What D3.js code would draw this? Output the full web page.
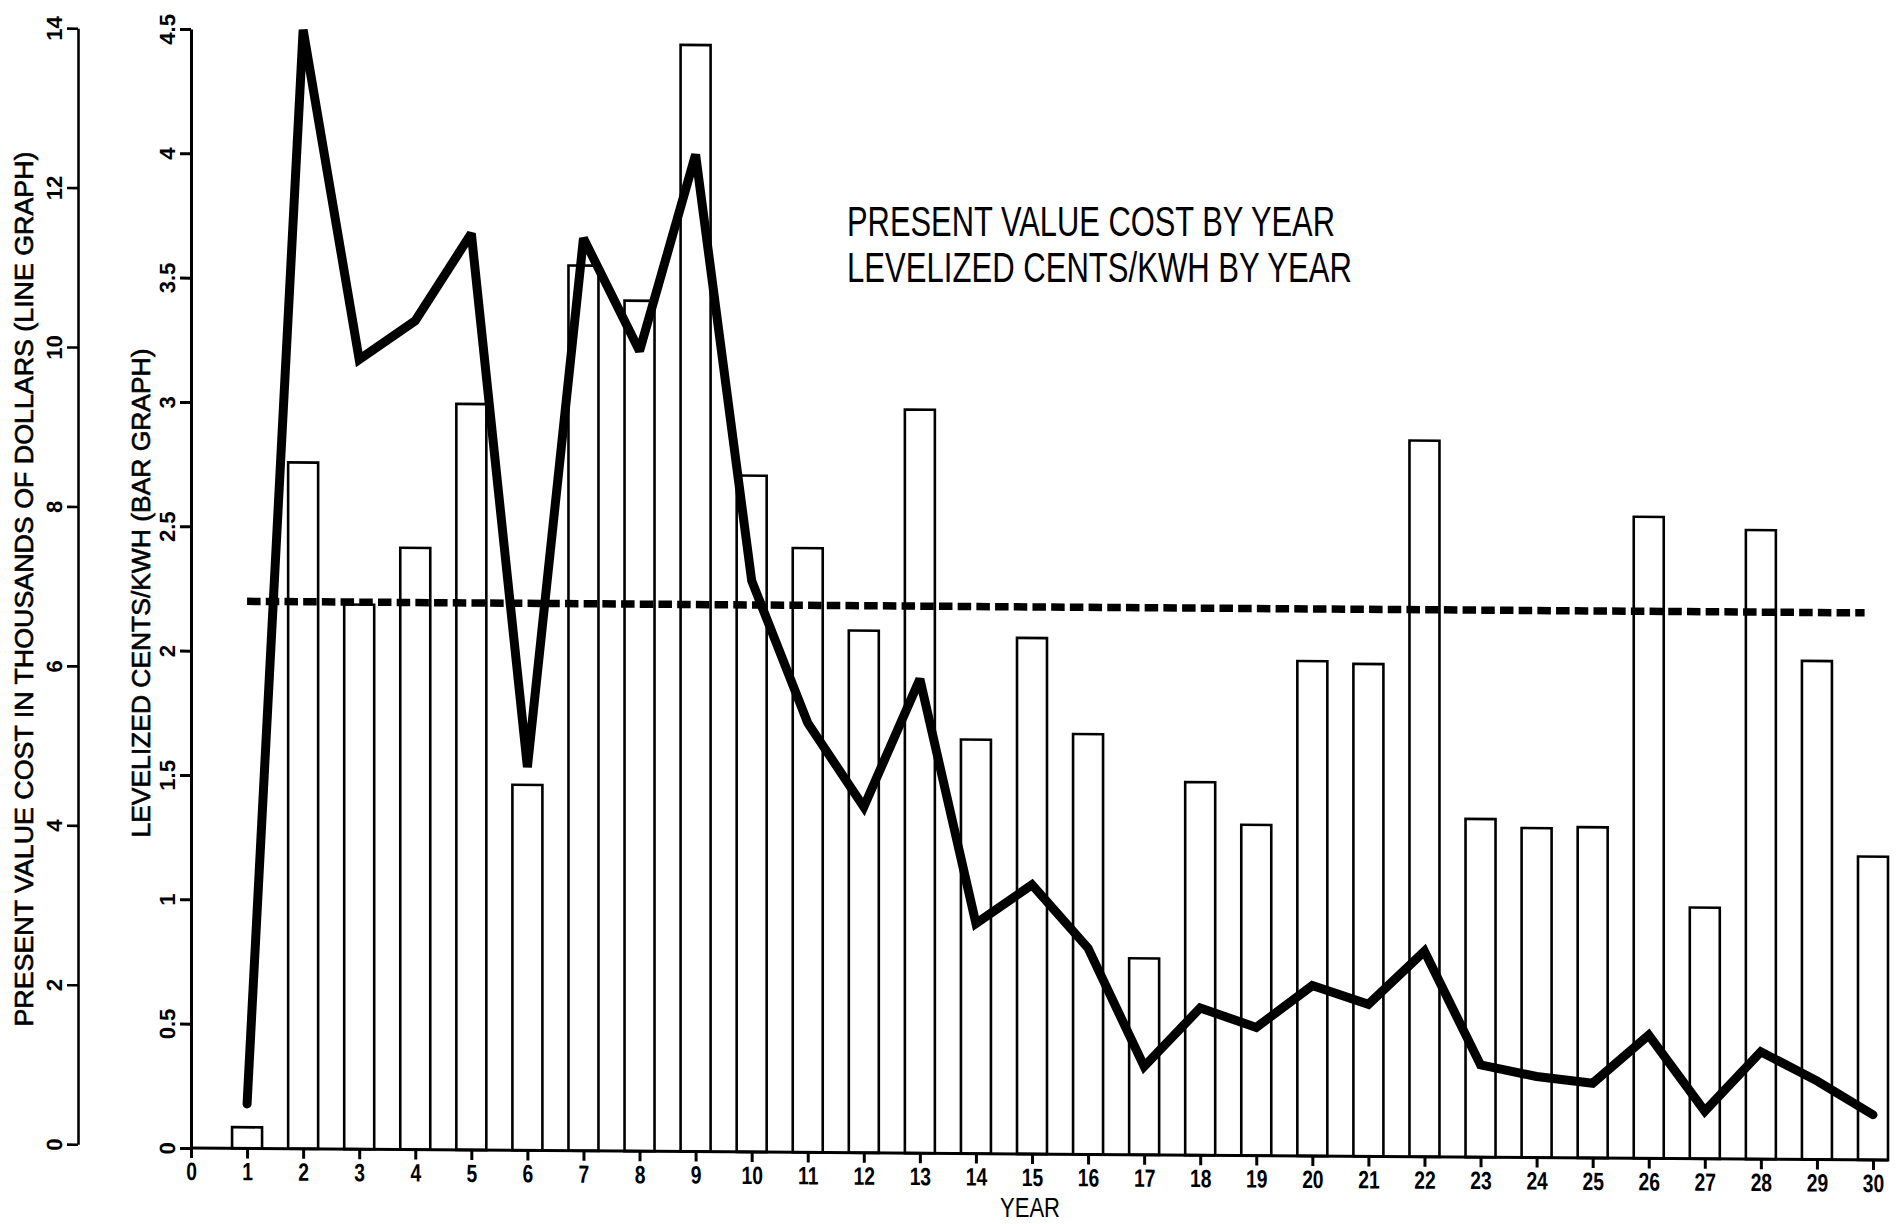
<!DOCTYPE html>
<html>
<head>
<meta charset="utf-8">
<title>Present value cost and levelized cents/kWh by year</title>
<script src="https://cdn.jsdelivr.net/npm/d3@7/dist/d3.min.js"></script>
<style>
  html, body { margin: 0; padding: 0; background: #fff; }
  svg { display: block; }
  .tick-label { font-family: "Liberation Sans Narrow", "Liberation Sans", sans-serif; font-weight: bold; fill: #000; }
  .plot-title { font-family: "Liberation Sans Narrow", "Liberation Sans", sans-serif; fill: #000; }
</style>
</head>
<body>
<svg id="chart" width="1898" height="1224"></svg>
<script>
// ---- data ----
const years = d3.range(1, 31);
// bar graph: levelized cents per kWh in each year
const centsPerKwh = [0.085, 2.76, 2.19, 2.42, 3.00, 1.47, 3.56, 3.42, 4.45, 2.72,
                     2.43, 2.10, 2.99, 1.665, 2.075, 1.69, 0.79, 1.50, 1.33, 1.99,
                     1.98, 2.88, 1.36, 1.325, 1.33, 2.58, 1.01, 2.53, 2.005, 1.22];
// line graph: present value cost, thousands of dollars
const presentValueK = [0.52, 14.0, 9.87, 10.36, 11.46, 4.77, 11.41, 10.0, 12.47, 7.13,
                       5.35, 4.30, 5.91, 2.85, 3.34, 2.55, 1.07, 1.81, 1.57, 2.10,
                       1.87, 2.54, 1.12, 0.98, 0.90, 1.51, 0.56, 1.31, 0.95, 0.53];
// levelized cost over the whole period (dashed line), cents/kWh
const levelizedCents = 2.2;
const yearTicks = d3.range(0, 31);
const costTicks = [0, 2, 4, 6, 8, 10, 12, 14];
const centTicks = [0, 0.5, 1, 1.5, 2, 2.5, 3, 3.5, 4, 4.5];
const titleLines = ["PRESENT VALUE COST BY YEAR", "LEVELIZED CENTS/KWH BY YEAR"];

// ---- layout ----
const svg = d3.select("#chart");
const x = d3.scaleLinear().domain([0, 30]).range([191, 1873]);
const yCents = d3.scaleLinear().domain([0, 4.5]).range([1148, 29]);
const yCost = d3.scaleLinear().domain([0, 14]).range([1145, 29]);
const barW = (x(1) - x(0)) * 0.535;

// plotter paper sits slightly skewed: horizontal lines drop toward the right
const skewDeg = 0.4085;
const plot = svg.append("g")
  .attr("transform", `translate(0,${-Math.tan(skewDeg * Math.PI / 180) * x(0)}) skewY(${skewDeg})`);

// bars
plot.append("g").selectAll("rect")
  .data(years.map((yr, i) => ({ yr, v: centsPerKwh[i] })))
  .join("rect")
  .attr("x", d => x(d.yr) - barW / 2)
  .attr("y", d => yCents(d.v))
  .attr("width", barW)
  .attr("height", d => yCents(0) - yCents(d.v))
  .attr("fill", "#fff")
  .attr("stroke", "#000")
  .attr("stroke-width", 2.6);

// levelized (dashed) line
plot.append("line")
  .attr("x1", x(1)).attr("x2", x(29.85))
  .attr("y1", yCents(levelizedCents)).attr("y2", yCents(levelizedCents))
  .attr("stroke", "#000")
  .attr("stroke-width", 7.5)
  .attr("stroke-dasharray", "13.5 5.2");

// present value line
const line = d3.line().x((d, i) => x(years[i])).y(d => yCost(d));
plot.append("path")
  .datum(presentValueK)
  .attr("d", line)
  .attr("fill", "none")
  .attr("stroke", "#000")
  .attr("stroke-width", 9)
  .attr("stroke-linejoin", "miter")
  .attr("stroke-miterlimit", 2.2)
  .attr("stroke-linecap", "round");

// axes
function styleAxis(g, w) {
  g.selectAll(".domain").attr("stroke", "#000").attr("stroke-width", w);
  g.selectAll(".tick line").attr("stroke", "#000").attr("stroke-width", w);
}

const centAxis = plot.append("g")
  .attr("transform", `translate(${x(0)},0)`)
  .call(d3.axisLeft(yCents).tickValues(centTicks).tickSize(11).tickSizeOuter(0).tickFormat(d => String(d)));
styleAxis(centAxis, 3);
centAxis.selectAll(".tick text")
  .attr("class", "tick-label")
  .attr("font-size", 22)
  .attr("transform", "rotate(-90)")
  .attr("x", 0).attr("y", -24).attr("dy", "0.35em")
  .attr("text-anchor", "middle");

const costAxis = plot.append("g")
  .attr("transform", "translate(78,0)")
  .call(d3.axisLeft(yCost).tickValues(costTicks).tickSize(11).tickSizeOuter(0).tickFormat(d => String(d)));
styleAxis(costAxis, 2.6);
costAxis.selectAll(".tick text")
  .attr("class", "tick-label")
  .attr("font-size", 22)
  .attr("transform", "rotate(-90)")
  .attr("x", 0).attr("y", -24).attr("dy", "0.35em")
  .attr("text-anchor", "middle");

const yearAxis = plot.append("g")
  .attr("transform", `translate(0,${yCents(0)})`)
  .call(d3.axisBottom(x).tickValues(yearTicks).tickSize(10).tickSizeOuter(0));
yearAxis.select(".domain").remove();
styleAxis(yearAxis, 3);
yearAxis.append("line")
  .attr("x1", x(0)).attr("x2", x(30) + barW / 2)
  .attr("y1", 0).attr("y2", 0)
  .attr("stroke", "#000").attr("stroke-width", 3);
yearAxis.selectAll(".tick text")
  .attr("class", "tick-label")
  .attr("font-size", 25)
  .attr("y", 32).attr("dy", null)
  .attr("transform", "scale(0.77,1)");

// axis titles
svg.append("text")
  .attr("class", "plot-title")
  .attr("transform", "translate(33,589) rotate(-90)")
  .attr("text-anchor", "middle")
  .attr("font-size", 25)
  .attr("stroke", "#000").attr("stroke-width", 0.6)
  .attr("textLength", 875).attr("lengthAdjust", "spacingAndGlyphs")
  .text("PRESENT VALUE COST IN THOUSANDS OF DOLLARS (LINE GRAPH)");

svg.append("text")
  .attr("class", "plot-title")
  .attr("transform", "translate(150,593) rotate(-90)")
  .attr("text-anchor", "middle")
  .attr("font-size", 25)
  .attr("stroke", "#000").attr("stroke-width", 0.6)
  .attr("textLength", 489).attr("lengthAdjust", "spacingAndGlyphs")
  .text("LEVELIZED CENTS/KWH (BAR GRAPH)");

svg.append("text")
  .attr("class", "plot-title")
  .attr("x", 1000).attr("y", 1217)
  .attr("font-size", 27)
  .attr("textLength", 60).attr("lengthAdjust", "spacingAndGlyphs")
  .text("YEAR");

// chart title
const titleLengths = [488, 505];
svg.append("g").selectAll("text")
  .data(titleLines)
  .join("text")
  .attr("class", "plot-title")
  .attr("x", 847)
  .attr("y", (d, i) => 236 + i * 46)
  .attr("font-size", 43)
  .attr("textLength", (d, i) => titleLengths[i])
  .attr("lengthAdjust", "spacingAndGlyphs")
  .text(d => d);
</script>
</body>
</html>
